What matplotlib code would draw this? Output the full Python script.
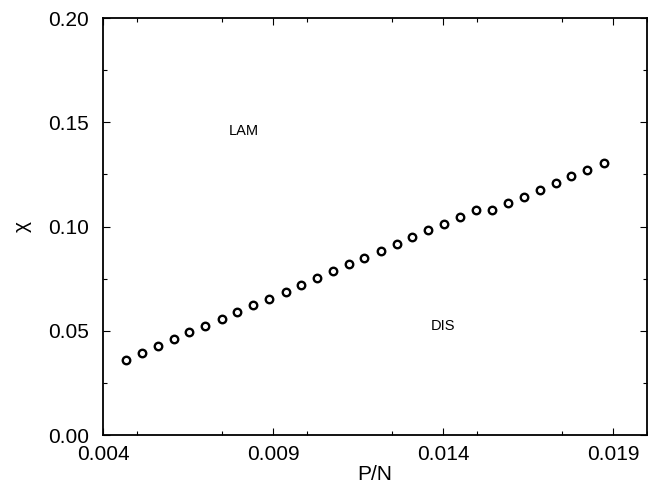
import matplotlib
matplotlib.use("Agg")
from matplotlib import pyplot as plt
from matplotlib.ticker import MultipleLocator

plt.rcParams["font.family"] = ["Liberation Sans", "DejaVu Sans"]

# P/N values
p_over_n = [
    0.00467, 0.00515, 0.00562, 0.00610, 0.00654, 0.00701, 0.00749, 0.00795,
    0.00842, 0.00888, 0.00937, 0.00983, 0.01030, 0.01076, 0.01123, 0.01168,
    0.01217, 0.01263, 0.01309, 0.01356, 0.01403, 0.01450, 0.01496, 0.01542,
    0.01590, 0.01637, 0.01684, 0.01731, 0.01777, 0.01824, 0.01872,
]
chi = [
    0.0361, 0.0393, 0.0426, 0.0460, 0.0492, 0.0524, 0.0558, 0.0590,
    0.0622, 0.0654, 0.0688, 0.0720, 0.0753, 0.0785, 0.0821, 0.0850,
    0.0885, 0.0918, 0.0949, 0.0982, 0.1014, 0.1047, 0.1080, 0.1078,
    0.1112, 0.1144, 0.1176, 0.1208, 0.1242, 0.1272, 0.1306,
]

x_ticks = [0.004, 0.009, 0.014, 0.019]
y_ticks = [0.00, 0.05, 0.10, 0.15, 0.20]

fig = plt.figure(figsize=(6.48, 4.91), dpi=100)
ax = fig.add_axes([0.159, 0.114, 0.840, 0.849])

ax.plot(p_over_n, chi, linestyle="none", marker="o", markersize=5.4,
        markerfacecolor="white", markeredgecolor="black", markeredgewidth=1.7)

ax.text(0.00815, 0.146, "LAM", fontsize=10.5, ha="center", va="center")
ax.text(0.0140, 0.0524, "DIS", fontsize=10.5, ha="center", va="center")

ax.set_xlim(0.004, 0.020)
ax.set_ylim(0.0, 0.2)
ax.set_xticks(x_ticks)
ax.set_xticklabels([f"{v:.3f}" for v in x_ticks])
ax.set_yticks(y_ticks)
ax.set_yticklabels([f"{v:.2f}" for v in y_ticks])
ax.xaxis.set_minor_locator(MultipleLocator(0.0025))
ax.yaxis.set_minor_locator(MultipleLocator(0.025))
ax.tick_params(which="both", direction="in", top=True, right=True, labelsize=15, width=0.8)
ax.tick_params(which="major", length=5)
ax.tick_params(which="minor", length=3)
ax.tick_params(axis="y", pad=10)
ax.tick_params(axis="x", pad=7)
for s in ax.spines.values():
    s.set_linewidth(1.3)

ax.set_xlabel("P/N", fontsize=15, labelpad=1)
ax.set_ylabel("χ", fontsize=15, labelpad=12)

fig.savefig("out.png", dpi=100)
